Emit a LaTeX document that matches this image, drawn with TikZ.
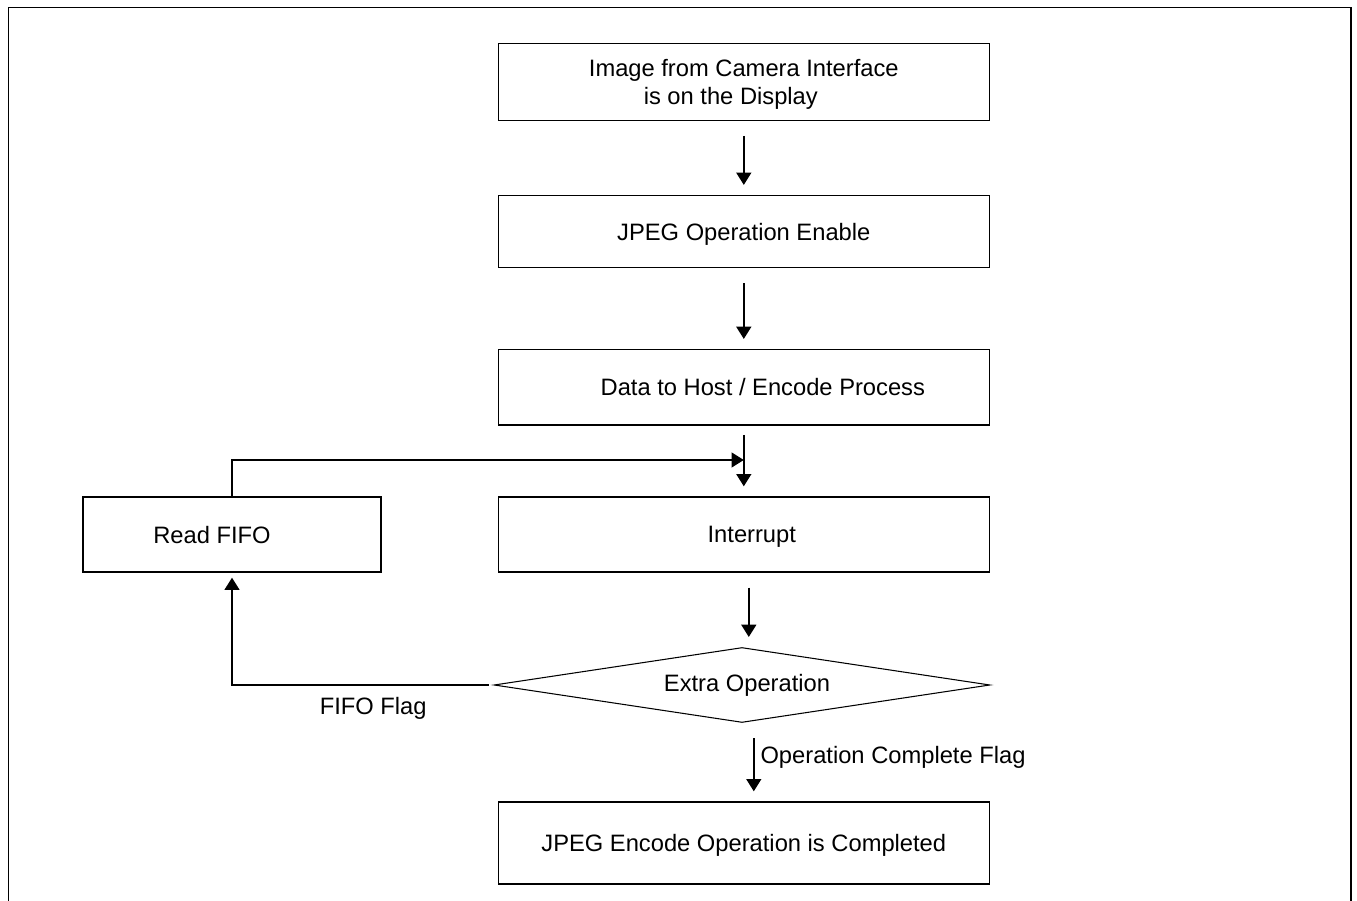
\documentclass[tikz,border=0pt]{standalone}
\usepackage{fontspec}
\setmainfont{Liberation Sans}
\usetikzlibrary{positioning,arrows.meta,shapes.geometric}

\begin{document}
\begin{tikzpicture}[x=0.02cm, y=-0.02cm,
    every node/.style={font=\fontsize{13.5}{16}\selectfont},
    stepbox/.style={draw, line width=0.8pt, minimum width=9.82cm, inner sep=0pt, text depth=0pt},
    flow/.style={-{Triangle[length=7pt,width=8.5pt]}, line width=1pt, shorten <=0.3cm, shorten >=0.2cm}]
      \useasboundingbox (0,0) rectangle (1357,901);
      % frame, open at the bottom
      \draw[line width=0.75pt] (8.3,910) -- (8.3,7.3) -- (1351,7.3) -- (1351,910);

      \node[stepbox, minimum height=1.53cm, align=center] (img) at (743.8,82) {Image from Camera Interface\\is on the Display\hspace*{0.52cm}};
      \node[stepbox, minimum height=1.44cm] (jpeg) at (743.8,231.6) {JPEG Operation Enable};
      \node[stepbox, minimum height=1.51cm] (data) at (743.8,387.4) {\hspace*{0.76cm}Data to Host / Encode Process};
      \node[stepbox, minimum height=1.5cm] (intr) at (743.8,534.5) {\hspace*{0.32cm}Interrupt};
      \node[stepbox, minimum height=1.5cm, minimum width=5.96cm] (fifo) at (232,534.5) {Read FIFO\hspace*{0.8cm}};
      \node[draw, diamond, aspect=6.6, line width=0.6pt, minimum width=9.92cm, minimum height=1.5cm, inner sep=0pt] (dec) at (742,685) {\hspace*{0.2cm}Extra Operation};
      \node[stepbox, minimum height=1.64cm] (done) at (743.8,843) {JPEG Encode Operation is Completed};
      \coordinate (join) at (743.8,460);

      \draw[flow] (img) -- (jpeg);
      \draw[flow] (jpeg) -- (data);
      \draw[flow, shorten <=0.18cm] (data) -- (intr);
      \draw[flow, shorten <=0pt, shorten >=0pt] (fifo.north) |- (join);
      \draw[flow] ([xshift=0.1cm]intr.south) -- ([xshift=0.1cm]intr.south |- dec.north);
      \draw[flow, shorten <=0.1cm, shorten >=0.1cm] (dec.west) -| (fifo.south) node[pos=0.23, below, yshift=-0.12cm] {FIFO Flag};
      \draw[flow] ([xshift=0.2cm]done.north |- dec.south) -- ([xshift=0.2cm]done.north) node[pos=0.44, right] {Operation Complete Flag};
    \end{tikzpicture}
\end{document}
